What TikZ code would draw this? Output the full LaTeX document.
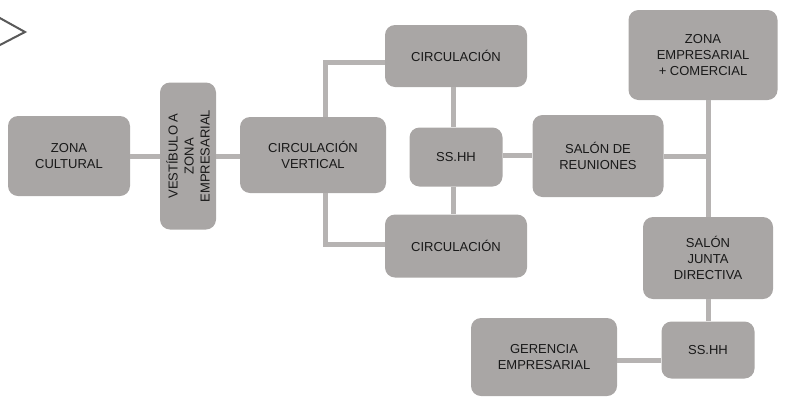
\documentclass[tikz,border=0pt]{standalone}
\usepackage{fontspec}
\setmainfont{Liberation Sans}
\usepackage{tikz}
\usetikzlibrary{positioning, calc}
\definecolor{kotak}{RGB}{169,166,165}
\definecolor{garisabu}{RGB}{182,179,178}
\definecolor{teks}{RGB}{25,25,25}

\begin{document}
\begin{tikzpicture}[
			x=1pt, y=-1pt,
			blok/.style={fill=kotak, rectangle, rounded corners=10pt, align=center, text=teks, font=\fontsize{13}{16}\selectfont, inner sep=2pt},
			garis/.style={draw=garisabu, line width=5pt}
		]
		\useasboundingbox (0,0) rectangle (785,397);

		% Penanda panah (kiri atas)
		\draw[black!65, line width=2pt] (-2,17) -- (25,32) -- (-2,46);

		% Node Kiri
		\node[blok, minimum width=122pt, minimum height=80pt] (cultural) at (69,156) {ZONA\\CULTURAL};
		\node[blok, rotate=90, minimum width=147pt, minimum height=56pt] (vestibulo) at (188,156) {VESTÍBULO A\\ZONA\\EMPRESARIAL};
		\node[blok, minimum width=146pt, minimum height=76pt] (vertical) at (313,155) {CIRCULACIÓN\\VERTICAL};

		% Node Tengah
		\node[blok, minimum width=142pt, minimum height=62pt] (circatas) at (456,56) {CIRCULACIÓN};
		\node[blok, minimum width=93pt, minimum height=59pt] (sshhtengah) at (456,157) {SS.HH};
		\node[blok, minimum width=142pt, minimum height=63pt] (circbawah) at (456,246) {CIRCULACIÓN};
		\node[blok, minimum width=131pt, minimum height=82pt] (reuniones) at (598,156) {SALÓN DE\\REUNIONES};

		% Node Kanan
		\node[blok, minimum width=149pt, minimum height=90pt] (comercial) at (703,55) {ZONA\\EMPRESARIAL\\+ COMERCIAL};
		\node[blok, minimum width=130pt, minimum height=82pt] (junta) at (708,258) {SALÓN\\JUNTA\\DIRECTIVA};
		\node[blok, minimum width=93pt, minimum height=57pt] (sshhbawah) at (708,350) {SS.HH};
		\node[blok, minimum width=146pt, minimum height=78pt] (gerencia) at (544,357) {GERENCIA\\EMPRESARIAL};

		% Garis Penghubung
		\draw[garis] (cultural.east) -- (vestibulo.north);
		\draw[garis] (vestibulo.south) -- (vestibulo.south -| vertical.west);
		\draw[garis] ([xshift=12pt]vertical.north) |- ([yshift=-6pt]circatas.west);
		\draw[garis] ([xshift=12pt]vertical.south) |- ([yshift=2pt]circbawah.west);
		\draw[garis] ([xshift=-3pt]circatas.south) -- ([xshift=-3pt]sshhtengah.north);
		\draw[garis] ([xshift=-3pt]sshhtengah.south) -- ([xshift=-3pt]circbawah.north);
		\draw[garis] ([yshift=2pt]sshhtengah.east) -- ([yshift=2pt]sshhtengah.east -| reuniones.west);
		\draw[garis] (reuniones.east) -- (reuniones.east -| junta.north);
		\draw[garis] (junta.north |- comercial.south) -- (junta.north);
		\draw[garis] (junta.south) -- (sshhbawah.north);
		\draw[garis] ([yshift=-3pt]gerencia.east) -- ([yshift=-3pt]gerencia.east -| sshhbawah.west);
	\end{tikzpicture}
\end{document}
